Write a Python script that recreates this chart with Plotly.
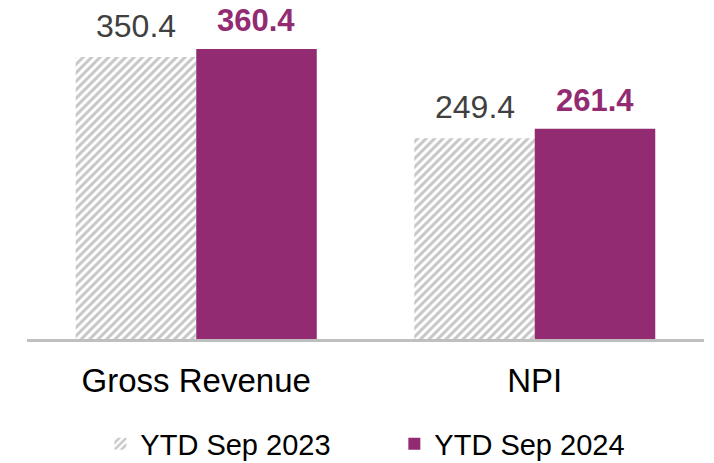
import plotly.graph_objects as go

categories = ["Gross Revenue", "NPI"]
series_names = ["YTD Sep 2023", "YTD Sep 2024"]
values_2023 = [350.4, 249.4]
values_2024 = [360.4, 261.4]
labels_2023 = ["350.4", "249.4"]
labels_2024 = ["360.4", "261.4"]

PURPLE = "#922B72"
HATCH = "#8E8E8E"
FONT = "Liberation Sans, Arial, sans-serif"

fig = go.Figure()
fig.add_trace(go.Bar(
    x=categories, y=values_2023, name=series_names[0],
    marker=dict(color="white", line=dict(width=0),
                pattern=dict(shape="/", fgcolor=HATCH, bgcolor="white",
                             size=6, solidity=0.5, fillmode="overlay")),
))
fig.add_trace(go.Bar(
    x=categories, y=values_2024, name=series_names[1],
    marker=dict(color=PURPLE, line=dict(width=0)),
))

annotations = []
for cat, v, t in zip(categories, values_2023, labels_2023):
    annotations.append(dict(x=cat, y=v, text=t, xshift=-60, yshift=11,
                            yanchor="bottom", showarrow=False,
                            font=dict(family=FONT, size=32, color="#404040")))
for cat, v, t in zip(categories, values_2024, labels_2024):
    annotations.append(dict(x=cat, y=v, text="<b>" + t + "</b>", xshift=60, yshift=9,
                            yanchor="bottom", showarrow=False,
                            font=dict(family=FONT, size=31, color=PURPLE)))

fig.update_layout(
    width=714, height=463,
    margin=dict(l=27, r=10, t=20, b=124),
    paper_bgcolor="white", plot_bgcolor="white",
    barmode="group", bargap=0.288, bargroupgap=0,
    font=dict(family=FONT, color="#000000"),
    annotations=annotations,
    showlegend=True,
    legend=dict(orientation="h", xanchor="center", x=0.5426,
                yref="container", yanchor="middle", y=0.041,
                font=dict(family=FONT, size=29, color="#000000"),
                entrywidth=249, itemwidth=30, bgcolor="rgba(0,0,0,0)"),
    xaxis=dict(showline=True, linewidth=3, linecolor="#BFBFBF",
               ticks="outside", ticklen=10, tickcolor="rgba(0,0,0,0)",
               tickfont=dict(family=FONT, size=33, color="#000000"),
               showgrid=False, zeroline=False),
    yaxis=dict(visible=False, range=[0, 396.4], showgrid=False, zeroline=False),
)

fig.write_html("out.html", config={"displayModeBar": False},
               post_script="document.body.style.margin='0';")
